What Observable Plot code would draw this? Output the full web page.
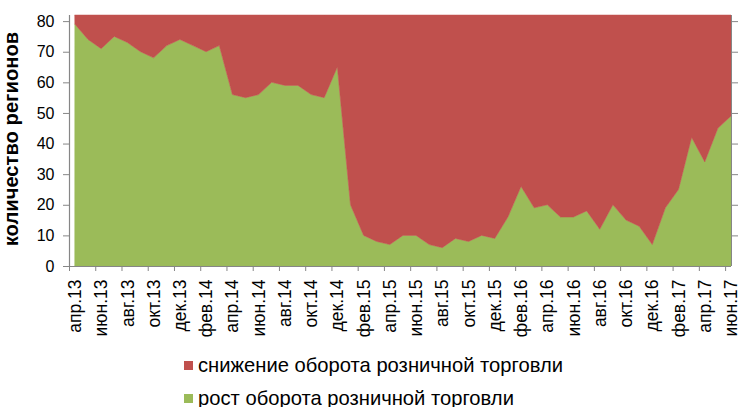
<!DOCTYPE html>
<html>
<head>
<meta charset="utf-8">
<script src="https://cdn.jsdelivr.net/npm/d3@7"></script>
<script src="https://cdn.jsdelivr.net/npm/@observablehq/plot@0.6"></script>
<style>
  html, body { margin: 0; padding: 0; background: #fff; }
  body { width: 738px; height: 407px; position: relative; overflow: hidden; font-family: "Liberation Sans", Arial, sans-serif; }
  #chart { position: absolute; left: 0; top: 0; }
  .legend { position: absolute; left: 184px; font-size: 20.2px; color: #000; white-space: nowrap; }
  .legend .row { position: absolute; left: 0; display: flex; align-items: center; }
  .legend .sw { width: 9px; height: 9px; margin-right: 5px; }
  #ytitle { position: absolute; left: 11px; top: 139px; transform: translate(-50%, -50%) rotate(-90deg); font-weight: bold; font-size: 20.2px; white-space: nowrap; color: #000; line-height: 1; }
</style>
</head>
<body>
<div id="chart"></div>
<div id="ytitle"></div>
<div class="legend" id="legend"></div>
<script>
const months = [
  "апр.13","май.13","июн.13","июл.13","авг.13","сен.13","окт.13","ноя.13","дек.13",
  "янв.14","фев.14","мар.14","апр.14","май.14","июн.14","июл.14","авг.14","сен.14","окт.14","ноя.14","дек.14",
  "янв.15","фев.15","мар.15","апр.15","май.15","июн.15","июл.15","авг.15","сен.15","окт.15","ноя.15","дек.15",
  "янв.16","фев.16","мар.16","апр.16","май.16","июн.16","июл.16","авг.16","сен.16","окт.16","ноя.16","дек.16",
  "янв.17","фев.17","мар.17","апр.17","май.17","июн.17"
];
const growth = [
  79,74,71,75,73,70,68,72,74,
  72,70,72,56,55,56,60,59,59,56,55,65,
  20,10,8,7,10,10,7,6,9,8,10,9,
  16,26,19,20,16,16,18,12,20,15,13,7,
  19,25,42,34,45,49
];
const decline = [
  3,8,11,7,9,12,14,10,8,
  10,12,10,26,27,26,22,23,23,26,27,17,
  62,72,74,75,72,72,75,76,73,74,72,73,
  66,56,63,62,66,66,64,70,62,67,69,75,
  63,57,40,48,37,33
];
const seriesNames = ["снижение оборота розничной торговли", "рост оборота розничной торговли"];
const seriesColors = ["#C0504D", "#9BBB59"];
const yTicks = [0,10,20,30,40,50,60,70,80];
const yTitle = "количество регионов";

const rows = [];
months.forEach((m, i) => {
  rows.push({i, series: seriesNames[1], value: growth[i]});
  rows.push({i, series: seriesNames[0], value: decline[i]});
});

const n = months.length;
const xDomain = [-0.45, n - 1];
const labelTicks = d3.range(0, n, 2);
const markTicks = labelTicks.map(i => i - 0.45);
const axisColor = "#868686";

const chart = Plot.plot({
  width: 738,
  height: 345,
  marginLeft: 69,
  marginRight: 7,
  marginTop: 15,
  marginBottom: 79,
  style: { fontFamily: "'Liberation Sans', Arial, sans-serif", fontSize: "16px", color: "#000", background: "#fff", overflow: "visible" },
  x: { domain: xDomain, axis: null },
  y: { domain: [0, 82], axis: null },
  color: { domain: seriesNames, range: seriesColors },
  marks: [
    Plot.areaY(rows, {x: "i", y: "value", fill: "series", stroke: "series", strokeWidth: 0.5, order: [seriesNames[1], seriesNames[0]], curve: "linear"}),
    Plot.ruleX([xDomain[0]], {stroke: axisColor, strokeWidth: 1.2}),
    Plot.ruleX([xDomain[1]], {stroke: axisColor, strokeWidth: 1}),
    Plot.ruleY([0], {stroke: axisColor, strokeWidth: 1.2}),
    Plot.axisY({anchor: "left", ticks: yTicks, tickSize: 6, tickPadding: 9, stroke: axisColor, fill: "#000", fontSize: 16, label: null}),
    Plot.axisY({anchor: "right", ticks: yTicks.slice(1), tickSize: 6, tickFormat: () => "", stroke: axisColor, label: null}),
    Plot.axisX({ticks: markTicks, tickSize: 5, tickFormat: () => "", stroke: axisColor, label: null}),
    Plot.axisX({ticks: labelTicks, tickSize: 0, tickPadding: 13, tickRotate: -90, tickFormat: i => months[i], fill: "#000", fontSize: 17.5, label: null})
  ]
});
document.getElementById("chart").appendChild(chart);
document.getElementById("ytitle").textContent = yTitle;

const legend = document.getElementById("legend");
const legendTops = [354, 387];
seriesNames.forEach((name, k) => {
  const row = document.createElement("div");
  row.className = "row";
  row.style.top = legendTops[k] + "px";
  const sw = document.createElement("span");
  sw.className = "sw";
  sw.style.background = seriesColors[k];
  const t = document.createElement("span");
  t.textContent = name;
  row.appendChild(sw);
  row.appendChild(t);
  legend.appendChild(row);
});
</script>
</body>
</html>
